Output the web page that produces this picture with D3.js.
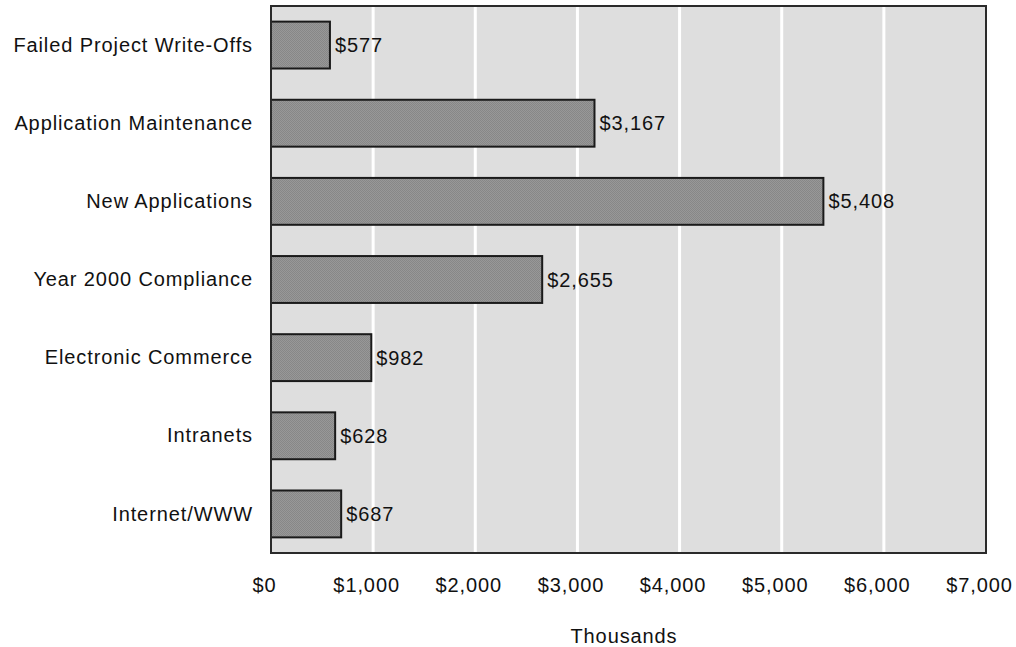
<!DOCTYPE html>
<html>
<head>
<meta charset="utf-8">
<script src="https://cdn.jsdelivr.net/npm/d3@7"></script>
<style>
  body { margin: 0; background: #fff; }
  svg text { font-family: Arial, "Liberation Sans", sans-serif; font-size: 20px; letter-spacing: 0.9px; fill: #111; }
</style>
</head>
<body>
<svg id="chart" width="1016" height="647"></svg>
<script>
// IT spending by category, in thousands of dollars
const categories = [
  "Failed Project Write-Offs",
  "Application Maintenance",
  "New Applications",
  "Year 2000 Compliance",
  "Electronic Commerce",
  "Intranets",
  "Internet/WWW"
];
const spending = [577, 3167, 5408, 2655, 982, 628, 687];
const tickValues = [0, 1000, 2000, 3000, 4000, 5000, 6000, 7000];
const axisTitle = "Thousands";

const svg = d3.select("#chart");
const plot = { left: 271, right: 986, top: 6, bottom: 553 };
const FONT = "Arial, 'Liberation Sans', sans-serif";

const x = d3.scaleLinear().domain([0, 7000]).range([plot.left, plot.right]);
const y = d3.scaleBand().domain(categories).range([plot.top, plot.bottom]).paddingInner(0.4).paddingOuter(0.2);
const fmt = v => "$" + d3.format(",")(v);

// dithered grey fill for the bars
const defs = svg.append("defs");
const pat = defs.append("pattern").attr("id", "dither")
  .attr("width", 2).attr("height", 2).attr("patternUnits", "userSpaceOnUse");
pat.append("rect").attr("width", 2).attr("height", 2).attr("fill", "#989898");
pat.append("rect").attr("width", 1).attr("height", 1).attr("fill", "#878787");
pat.append("rect").attr("x", 1).attr("y", 1).attr("width", 1).attr("height", 1).attr("fill", "#878787");

// plot background
svg.append("rect")
  .attr("x", plot.left).attr("y", plot.top)
  .attr("width", plot.right - plot.left).attr("height", plot.bottom - plot.top)
  .attr("fill", "#dedede");

// vertical gridlines
svg.append("g").selectAll("line")
  .data(tickValues.filter(t => t > 0 && t < 7000))
  .join("line")
  .attr("x1", d => x(d)).attr("x2", d => x(d))
  .attr("y1", plot.top).attr("y2", plot.bottom)
  .attr("stroke", "#fff").attr("stroke-width", 3);

// bars
svg.append("g").selectAll("rect")
  .data(categories)
  .join("rect")
  .attr("x", x(0))
  .attr("y", d => y(d))
  .attr("width", (d, i) => x(spending[i]) - x(0))
  .attr("height", y.bandwidth())
  .attr("fill", "url(#dither)")
  .attr("stroke", "#1a1a1a").attr("stroke-width", 2);

// value labels
svg.append("g").selectAll("text")
  .data(categories)
  .join("text")
  .attr("x", (d, i) => x(spending[i]) + 5)
  .attr("y", d => y(d) + y.bandwidth() / 2 + 7)
  .text((d, i) => fmt(spending[i]));

// plot frame
svg.append("rect")
  .attr("x", plot.left).attr("y", plot.top)
  .attr("width", plot.right - plot.left).attr("height", plot.bottom - plot.top)
  .attr("fill", "none").attr("stroke", "#2a2a2a").attr("stroke-width", 2);

// category axis
const yAxis = svg.append("g")
  .attr("transform", `translate(${plot.left},0)`)
  .call(d3.axisLeft(y).tickSize(0).tickPadding(18));
yAxis.select(".domain").remove();
yAxis.selectAll("text")
  .style("font-size", "20px").style("font-family", FONT).style("letter-spacing", "0.9px")
  .style("fill", "#111")
  .attr("dy", "0.33em");

// value axis
const xAxis = svg.append("g")
  .attr("transform", `translate(-7,${plot.bottom})`)
  .call(d3.axisBottom(x).tickValues(tickValues).tickFormat(fmt).tickSize(0).tickPadding(25));
xAxis.select(".domain").remove();
xAxis.selectAll("text")
  .style("font-size", "20px").style("font-family", FONT).style("letter-spacing", "0.9px")
  .style("fill", "#111");

// axis title
svg.append("text")
  .attr("x", 624).attr("y", 643)
  .attr("text-anchor", "middle")
  .text(axisTitle);
</script>
</body>
</html>
